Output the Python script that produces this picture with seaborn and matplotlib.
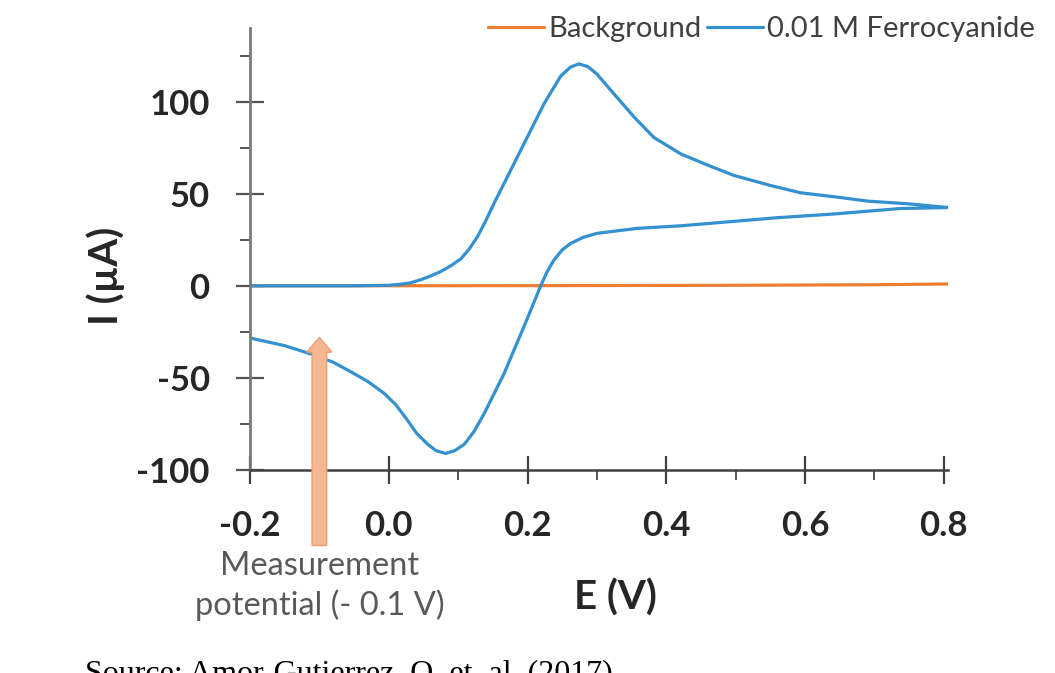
import numpy as np
import pandas as pd
import seaborn as sns
import matplotlib.pyplot as plt
from matplotlib.ticker import MultipleLocator, FormatStrFormatter

# forward (oxidation) scan of the ferrocyanide CV
fwd_E = [-0.20, -0.10, -0.05, 0.00, 0.015, 0.03, 0.046, 0.06, 0.075, 0.09, 0.104, 0.116,
         0.128, 0.14, 0.152, 0.176, 0.20, 0.224, 0.248, 0.262, 0.274, 0.287, 0.30,
         0.325, 0.354, 0.382, 0.421, 0.46, 0.497, 0.55, 0.594, 0.65, 0.69, 0.75, 0.807]
fwd_I = [0.0, 0.0, 0.0, 0.3, 0.8, 1.5, 3.3, 5.3, 7.8, 11.0, 14.7, 20.0,
         26.8, 35.5, 45.0, 63.0, 81.0, 99.0, 114.0, 118.8, 120.5, 119.0, 115.0,
         104.0, 91.5, 80.6, 71.6, 65.5, 60.0, 54.5, 50.5, 48.0, 46.0, 44.5, 42.5]

# reverse (reduction) scan
rev_E = [0.807, 0.738, 0.641, 0.56, 0.497, 0.421, 0.358, 0.30, 0.28, 0.262, 0.25,
         0.238, 0.228, 0.219, 0.195, 0.166, 0.137, 0.123, 0.109, 0.095, 0.082, 0.068,
         0.056, 0.04, 0.027, 0.01, -0.007, -0.03, -0.055, -0.08, -0.108, -0.15, -0.199]
rev_I = [42.5, 42.0, 39.0, 37.0, 35.0, 32.6, 31.2, 28.5, 26.3, 23.0, 19.5,
         14.0, 7.5, 0.0, -22.0, -47.8, -69.7, -79.0, -86.0, -89.5, -91.0, -89.5,
         -86.0, -80.0, -73.0, -64.5, -58.3, -52.0, -46.6, -41.5, -37.5, -32.5, -28.4]

# background scan
bg_E = [-0.20, 0.20, 0.50, 0.70, 0.807]
bg_I = [0.0, 0.1, 0.3, 0.6, 1.0]

series_names = ['Background', '0.01 M Ferrocyanide']
colors = {'Background': '#ed7d31', '0.01 M Ferrocyanide': '#3391d0'}

meas_E = -0.1
arrow_tail = -141
arrow_tip = -28

df = pd.concat([
    pd.DataFrame({'E': bg_E, 'I': bg_I, 'series': series_names[0]}),
    pd.DataFrame({'E': fwd_E + rev_E, 'I': fwd_I + rev_I, 'series': series_names[1]}),
], ignore_index=True)

sns.set_theme(style='white')
plt.rcParams['font.family'] = ['Lato', 'DejaVu Sans']
plt.rcParams['axes.unicode_minus'] = False
plt.rcParams['lines.solid_joinstyle'] = 'round'

fig = plt.figure(figsize=(10.55, 6.73), dpi=100)
ax = fig.add_axes([250 / 1055, 1 - 470 / 673, 698 / 1055, 442 / 673])

sns.lineplot(data=df, x='E', y='I', hue='series', hue_order=series_names,
             palette=colors, sort=False, estimator=None, linewidth=2.3, ax=ax)

ax.set_xlim(-0.2, 0.806)
ax.set_ylim(-100, 140)

ax.xaxis.set_major_locator(MultipleLocator(0.2))
ax.xaxis.set_minor_locator(MultipleLocator(0.1))
ax.yaxis.set_major_locator(MultipleLocator(50))
ax.yaxis.set_minor_locator(MultipleLocator(25))
ax.xaxis.set_major_formatter(FormatStrFormatter('%.1f'))
ax.yaxis.set_major_formatter(FormatStrFormatter('%d'))

for s in ['top', 'right']:
    ax.spines[s].set_visible(False)
ax.spines['left'].set_color('#7a7a7a')
ax.spines['left'].set_linewidth(2.0)
ax.spines['bottom'].set_color('#404040')
ax.spines['bottom'].set_linewidth(1.8)

ax.tick_params(axis='y', which='major', direction='inout', length=20, width=1.6,
               color='#555555', pad=19, labelsize=25, labelcolor='#262626')
ax.tick_params(axis='x', which='major', direction='inout', length=20, width=1.6,
               color='#404040', pad=19, labelsize=25, labelcolor='#262626')
ax.tick_params(which='minor', direction='out', length=7, width=1.4, color='#555555')
ax.tick_params(axis='both', which='both', left=True, bottom=True)
for lab in ax.get_xticklabels() + ax.get_yticklabels():
    lab.set_fontweight('bold')

ax.set_xlabel('E (V)', fontsize=29, fontweight='bold', color='#262626')
ax.set_ylabel('I (µA)', fontsize=29, fontweight='bold', color='#262626')
ax.xaxis.set_label_coords(0.523, -0.245)
ax.yaxis.set_label_coords(-0.179, 0.44)

# measurement potential arrow
ax.arrow(meas_E, arrow_tail, 0, arrow_tip - arrow_tail, width=0.021, head_width=0.036,
         head_length=8, length_includes_head=True, facecolor='#f5b792',
         edgecolor='#ef9d6c', linewidth=1.0, clip_on=False, zorder=3)
ax.text(meas_E, -163, 'Measurement\npotential (- 0.1 V)', ha='center', va='center',
        fontsize=23.5, color='#595959', linespacing=1.3, clip_on=False)

leg = ax.legend(ncol=2, frameon=False, loc='center right',
                bbox_to_anchor=(1035 / 1055, 1 - 29 / 673), bbox_transform=fig.transFigure,
                fontsize=21, handlelength=1.9, handletextpad=0.15, columnspacing=0.2,
                borderpad=0, borderaxespad=0)
for t in leg.get_texts():
    t.set_color('#404040')

fig.text(85 / 1055, -8 / 673, 'Source: Amor-Gutierrez, O. et. al. (2017)',
         family='Liberation Serif', fontsize=23, va='baseline', color='#000000')

fig.savefig('out.png', dpi=100)
